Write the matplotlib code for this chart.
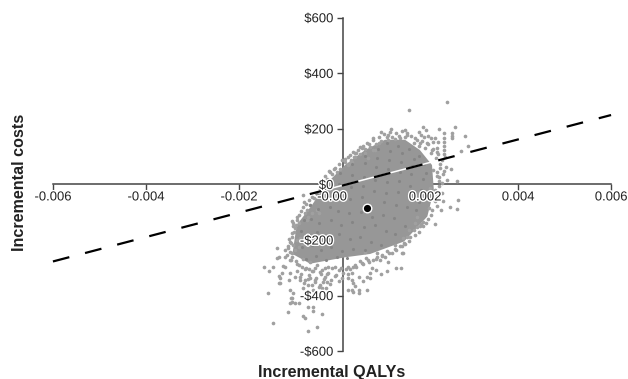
import matplotlib
matplotlib.use("Agg")
import matplotlib.patheffects as pe
import matplotlib.pyplot as plt

plt.rcParams["font.family"] = ["Liberation Sans", "DejaVu Sans"]
plt.rcParams["lines.scale_dashes"] = False

x_ticks = [-0.006, -0.004, -0.002, 0.0, 0.002, 0.004, 0.006]
x_tick_labels = ["-0.006", "-0.004", "-0.002", "-0.00", "0.002", "0.004", "0.006"]
y_ticks = [-600, -400, -200, 0, 200, 400, 600]
y_tick_labels = ["-$600", "-$400", "-$200", "$0", "$200", "$400", "$600"]

# outline of the solid part of the cloud, too dense to read single points
core_qaly = [.00114, .00157, .00189, .00215, .00219, .00205, .00155, .00082, .00028,
             -.00047, -.00085, -.00076, -.00043, -.00015, .00028, .00071]
core_cost = [161, 161, 124, 70, -20, -115, -205, -250, -262,
             -285, -250, -146, -74, -2, 70, 124]

# single points, by side of the cloud
top_qaly = [.00247, .00166, .00126, .00105, .00158, .00162, .00196, .00203, .00231, .00264,
            .00240, .00257, .00257, .00257, .00287, .00292, .00277, .00240, .00240, .00241,
            .00241, .00240, .00243, .00060, .00064, .00080, .00089, .00092, .00100, .00121,
            .00120, .00135, .00146, .00178, .00186, .00191, .00198, .00207, .00213, .00221,
            .00227, .00189, .00204, .00218, .00225, .00216, .00225, .00042, .00049, .00048,
            .00039, .00071, .00078, .00089, -.00004, .00004, .00028, .00034, .00039, .00052]
top_cost = [298, 267, 199, 188, 196, 186, 206, 197, 201, 208,
            186, 184, 176, 168, 176, 139, 121, 168, 154, 140,
            124, 109, 100, 136, 130, 146, 160, 124, 150, 178,
            160, 164, 166, 168, 190, 178, 172, 176, 166, 166,
            154, 148, 148, 154, 130, 124, 118, 82, 112, 100,
            76, 112, 94, 124, 46, 55, 82, 70, 106, 114]

left_qaly = [-.00119, -.00118, -.00087, -.00076, -.00072, -.00083, -.00062, -.00060, -.00047,
             -.00054, -.00058, -.00051, -.00054, -.00044, -.00033, -.00029, -.00087, -.00076,
             -.00069, -.00090, -.00083, -.00094, -.00100, -.00090, -.00080, -.00072, -.00065,
             -.00087, -.00090, -.00101, -.00105, -.00115]
left_cost = [-230, -266, -130, -128, -140, -140, -38, -62, -74,
             -92, -104, -116, -128, -104, -92, -104, -176, -200,
             -194, -206, -218, -230, -236, -242, -236, -224, -218,
             -248, -272, -298, -293, -262]

lower_qaly = [-.00146, -.00135, -.00126, -.00108, -.00112, -.00115, -.00090, -.00080, -.00092,
              -.00137, -.00127, -.00094, -.00063, -.00057, -.00051, -.00032, -.00021, -.00090,
              -.00083, -.00087, -.00090, -.00080, -.00051, -.00040, -.00040, -.00069, -.00058,
              -.00047, -.00037, -.00026, -.00062, -.00051, -.00040, -.00029, -.00022, -.00011,
              -.00015, -.00071, -.00088, -.00085, -.00114, -.00112]
lower_cost = [-298, -310, -296, -320, -338, -353, -320, -332, -344,
              -392, -500, -458, -473, -482, -527, -514, -467, -380,
              -392, -410, -428, -428, -440, -442, -455, -332, -344,
              -338, -350, -362, -374, -362, -380, -392, -374, -350,
              -332, -425, -410, -422, -329, -353]

bottom_qaly = [.00034, .00042, .00046, .00049, .00058, .00058, .00075, .00137, .00148, .00119,
               .00105, .00094, .00085, .00082, .00076, .00082, .00067, .00057, .00042, .00035,
               .00034, .00042, .00046, .00151, .00137, .00121, .00114, .00103, .00096, .00078,
               .00064, .00049, .00071]
bottom_cost = [-380, -380, -386, -365, -380, -392, -380, -300, -300, -311,
               -323, -308, -300, -320, -332, -335, -347, -334, -320, -323,
               -338, -344, -356, -248, -236, -278, -260, -272, -260, -272,
               -284, -290, -242]

right_qaly = [.00152, .00221, .00196, .00191, .00183, .00234, .00254, .00269, .00271, .00239,
              .00209, .00269, .00247, .00236, .00230, .00221, .00211, .00256, .00245, .00232,
              .00238, .00225, .00218, .00231, .00161, .00155, .00152, .00166, .00178, .00182]
right_cost = [-248, -141, -134, -143, -152, -92, -82, -87, -56, -59,
              -84, 13, 16, 4, 13, -20, -14, 55, 64, 60,
              37, 44, 52, 28, -188, -212, -194, -164, -140, -116]

# scatter between the solid core and the loose points, lower left
band_qaly = [-.00085, -.00078, -.00070, -.00062, -.00055, -.00048, -.00040, -.00032, -.00024, -.00016,
             -.00008, .00000, .00008, .00016, .00024, .00030, -.00075, -.00066, -.00058, -.00050,
             -.00042, -.00034, -.00026, -.00018, -.00010, -.00002, .00006, .00014, .00022, .00038,
             .00052, .00066, .00080, .00094, .00108, .00122, .00136, .00150, .00165, .00178,
             .00190, -.00068, -.00060, -.00052, -.00044, -.00036, -.00028, -.00020, -.00012, -.00004]
band_cost = [-262, -275, -290, -268, -300, -280, -310, -290, -322, -300,
             -318, -302, -325, -306, -320, -305, -310, -322, -305, -325,
             -312, -335, -315, -340, -322, -345, -330, -348, -335, -305,
             -298, -286, -280, -268, -252, -245, -232, -222, -205, -180,
             -150, -345, -355, -340, -360, -345, -368, -352, -372, -358]

# points that roughen the edge of the solid core, going round it clockwise
rim_qaly = [-.00022, -.00016, -.00010, -.00006, .00000, .00006, .00010, .00014, .00018, .00022,
            .00028, .00034, .00040, .00046, .00050, .00056, .00060, .00066, .00070, .00076,
            .00082, .00088, .00094, .00100, .00106, .00112, .00118, .00124, .00130, .00138,
            .00144, .00150, .00156, .00162, .00170, .00176, .00182, .00188, .00194, .00200,
            .00206, .00212, .00218, .00224, .00228, .00232, .00236, .00240, .00226, .00230,
            .00226, .00236, .00222, .00216, .00226, .00206, .00212, .00196, .00202, .00186,
            .00176, .00168, .00158, .00146, .00136, .00128, .00118, .00108, .00096, .00088,
            .00074, .00060, .00046, .00034, .00020, .00006, -.00008, -.00022, -.00036, -.00050,
            -.00064, -.00076, -.00088, -.00096, -.00102, -.00094, -.00088, -.00092, -.00086, -.00082,
            -.00080, -.00078, -.00084, -.00076, -.00070, -.00066, -.00062, -.00056, -.00050, -.00044,
            -.00038, -.00034, -.00028, -.00026]
rim_cost = [12, 30, 20, 48, 36, 60, 44, 72, 56, 88,
            90, 100, 88, 118, 98, 124, 108, 138, 128, 150,
            136, 166, 146, 172, 158, 182, 170, 190, 172, 185,
            175, 192, 172, 178, 176, 150, 160, 140, 156, 130,
            144, 112, 128, 96, 110, 72, 88, 50, 30, -4,
            -40, -30, -60, -90, -78, -125, -110, -150, -138, -170,
            -165, -190, -214, -222, -218, -246, -238, -256, -248, -272,
            -266, -276, -296, -298, -300, -296, -298, -306, -300, -305,
            -298, -286, -270, -252, -262, -222, -210, -196, -190, -172,
            -158, -146, -150, -116, -108, -96, -82, -70, -56, -44,
            -50, -30, -38, -16]

# darker flecks seen inside the core
fleck_qaly = [.00118, .00142, .00165, .00186, .00098, .00124, .00150, .00176, .00198, .00072,
              .00096, .00122, .00148, .00172, .00202, .00044, .00070, .00094, .00120, .00146,
              .00170, .00195, .00018, .00042, .00068, .00092, .00118, .00144, .00168, .00192,
              -.00008, .00016, .00040, .00066, .00090, .00116, .00142, .00166, .00188, -.00032,
              -.00006, .00014, .00038, .00064, .00112, .00138, .00162, .00180, -.00048, -.00030,
              -.00004, .00012, .00036, .00062, .00086, .00110, .00134, .00156, -.00060, -.00046,
              -.00028, -.00002, .00020, .00044, .00068, .00092, .00116, .00136, -.00066, -.00050,
              -.00032, -.00010, .00014, .00038, .00060, .00084, .00106, -.00064, -.00044, -.00024,
              -.00002, .00022, .00046, .00070, -.00056, -.00034, -.00012, .00010, .00032]
fleck_cost = [148, 140, 128, 104, 128, 122, 112, 90, 72, 104,
              96, 88, 80, 66, 40, 72, 78, 62, 54, 44,
              36, 18, 42, 34, 28, 16, 8, 14, -6, -18,
              8, 2, -10, -4, -22, -32, -26, -40, -62, -34,
              -44, -38, -52, -44, -62, -72, -80, -92, -74, -88,
              -80, -94, -104, -98, -116, -108, -122, -148, -128, -124,
              -138, -126, -146, -136, -152, -144, -166, -178, -168, -182,
              -172, -190, -178, -196, -188, -208, -216, -226, -218, -236,
              -224, -240, -232, -236, -268, -258, -272, -262, -264]

mean_qaly = [0.00075]
mean_cost = [-85]

threshold_qaly = [-0.0060, 0.0060]
threshold_cost = [-277, 250]
threshold_inner_qaly = [-0.0003, 0.00226]
threshold_inner_cost = [-26, 86]


def setup_axes(ax) -> None:
    ax.set_xlim(-0.007138, 0.006364)
    ax.set_ylim(-700, 664)
    ax.spines[["top", "right"]].set_visible(False)
    ax.spines["left"].set_position(("data", 0.000237))
    ax.spines["bottom"].set_position(("data", 0))
    ax.spines["left"].set_bounds(-600, 600)
    ax.spines["bottom"].set_bounds(-0.006, 0.006)
    ax.set_xticks(x_ticks)
    ax.set_yticks(y_ticks)


fig = plt.figure(figsize=(6.28, 3.79), dpi=100)
ax = fig.add_axes([0, 0, 1, 1])
setup_axes(ax)
for side in ["left", "bottom"]:
    ax.spines[side].set_linewidth(1.1)
    ax.spines[side].set_color("#444444")
    ax.spines[side].set_zorder(1)
ax.tick_params(axis="both", length=4.5, width=1.0, color="#444444", labelleft=False, labelbottom=False)
ax.set_axisbelow(True)

# cloud goes over the axes
ax.fill(core_qaly, core_cost, color="#979797", lw=0, zorder=2)
for qaly, cost in [(top_qaly, top_cost), (left_qaly, left_cost), (lower_qaly, lower_cost),
                   (bottom_qaly, bottom_cost), (right_qaly, right_cost), (band_qaly, band_cost),
                   (rim_qaly, rim_cost)]:
    ax.scatter(qaly, cost, s=7, color="#a0a0a0", linewidths=0, zorder=3)
ax.scatter(fleck_qaly, fleck_cost, s=5, color="#858585", linewidths=0, zorder=3)

ax.plot(threshold_inner_qaly, threshold_inner_cost, color="white", lw=1.1, zorder=4)
ax.plot(threshold_qaly, threshold_cost, color="black", lw=1.6, dashes=(12.2, 11.7), zorder=5)
ax.scatter(mean_qaly, mean_cost, s=38, color="black", edgecolors="white", linewidths=1.0, zorder=6)

# tick labels sit on top of the cloud, so they get their own axes
top = fig.add_axes([0, 0, 1, 1], frameon=False)
setup_axes(top)
for spine in top.spines.values():
    spine.set_visible(False)
halo = [pe.withStroke(linewidth=2, foreground="white")]
top.set_xticklabels(x_tick_labels, fontsize=9.4, color="#222222", path_effects=halo)
top.set_yticklabels(y_tick_labels, fontsize=9.4, color="#222222", path_effects=halo)
top.tick_params(axis="x", length=0, pad=5)
top.tick_params(axis="y", length=0, pad=7)

fig.text(332 / 628, 1 - 372 / 379, "Incremental QALYs", fontsize=11.6, fontweight="bold",
         ha="center", va="center", color="#222222")
fig.text(20 / 628, 1 - 182 / 379, "Incremental costs", fontsize=11.6, fontweight="bold",
         rotation=90, ha="center", va="center", color="#222222")

fig.savefig("out.png", dpi=100)
